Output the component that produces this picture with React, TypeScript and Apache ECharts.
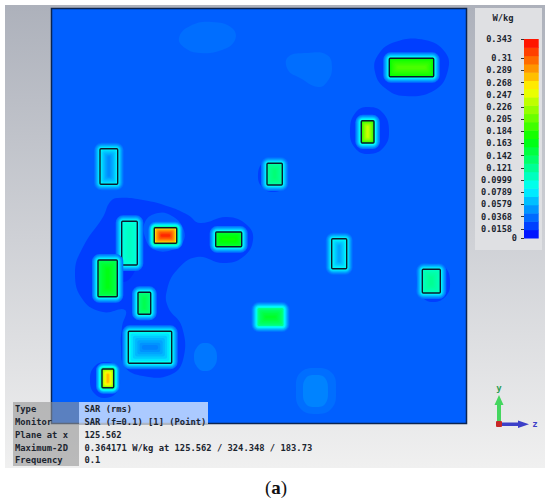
import React, { useEffect, useRef } from "react";
import * as echarts from "echarts";

// Colour scale ticks (W/kg)
const legendTicks = [0, 0.0158, 0.0368, 0.0579, 0.0789, 0.0999, 0.121, 0.142, 0.163, 0.184, 0.205, 0.226, 0.247, 0.268, 0.289, 0.31, 0.343];
const legendLabels = ["0", "0.0158", "0.0368", "0.0579", "0.0789", "0.0999", "0.121", "0.142", "0.163", "0.184", "0.205", "0.226", "0.247", "0.268", "0.289", "0.31", "0.343"];
const legendBandEdges = [0, 0.0143, 0.0286, 0.0429, 0.0572, 0.0715, 0.0858, 0.1, 0.1143, 0.1286, 0.1429, 0.1572, 0.1715, 0.1858, 0.2, 0.2143, 0.2286, 0.2429, 0.2572, 0.2715, 0.2858, 0.3, 0.3143, 0.3286, 0.343];
const scaleMax = 0.343;

const backgroundSAR = 0.032;

// Hot spots on the plane: corners, SAR just outside the edge, at the edge, at the centre, framed by a component outline (1/0)
const spotLeft = [100, 121.7, 154.3, 98, 138, 128.3, 102, 215.7, 267, 257.5, 389.3, 361.3, 331.7, 422.3];
const spotTop = [148.7, 221.3, 227.7, 260, 292.3, 331.3, 369, 232, 163.3, 308, 58.3, 120.7, 238.7, 269.3];
const spotRight = [117.7, 137.3, 176.7, 117.3, 150.7, 171.7, 113.7, 241.7, 282.3, 283.5, 433.7, 374, 346.7, 440.3];
const spotBottom = [184.3, 265, 243.3, 296.7, 314.3, 363.3, 387.7, 246.7, 185, 326, 76.7, 143, 268.7, 293];
const spotGlow = [0.085, 0.09, 0.13, 0.095, 0.095, 0.09, 0.12, 0.095, 0.09, 0.095, 0.095, 0.1, 0.088, 0.09];
const spotEdge = [0.085, 0.095, 0.26, 0.14, 0.125, 0.09, 0.21, 0.15, 0.115, 0.125, 0.17, 0.18, 0.09, 0.105];
const spotPeak = [0.047, 0.106, 0.33, 0.165, 0.145, 0.044, 0.28, 0.175, 0.132, 0.158, 0.196, 0.238, 0.056, 0.122];
const spotFramed = [1, 1, 1, 1, 1, 1, 1, 1, 1, 0, 1, 1, 1, 1];

// Iso-SAR contours on the plane, each with its SAR level, in drawing order
const contourLevels = [0.021, 0.032, 0.016, 0.021, 0.021, 0.021, 0.021, 0.021, 0.037, 0.037, 0.04, 0.037, 0.044];
const contourPoints: number[][][] = [
  [[118, 198], [143, 200], [170, 207], [188, 215], [200, 223], [227, 217], [247, 225], [253, 240], [243, 257], [223, 263], [197, 257], [177, 270], [167, 290], [168, 307], [182, 327], [183, 360], [170, 375], [143, 376], [125, 367], [121, 347], [122, 327], [125, 310], [103, 312], [83, 300], [75, 273], [83, 247], [103, 217], [110, 202]],
  [[145, 222], [158, 213], [172, 216], [183, 228], [183, 242], [172, 250], [155, 250], [146, 240]],
  [[117, 268], [126, 262], [135, 266], [132, 276], [124, 282], [118, 278]],
  [[378, 55], [395, 42], [425, 40], [445, 52], [448, 70], [435, 90], [405, 96], [385, 88], [375, 72]],
  [[350, 130], [356, 112], [369, 107], [383, 113], [389, 130], [384, 147], [369, 154], [355, 148]],
  [[258, 175], [263, 162], [273, 158], [284, 161], [288, 175], [284, 187], [273, 192], [262, 187]],
  [[416, 282], [421, 268], [433, 263], [445, 267], [450, 282], [446, 296], [433, 302], [421, 296]],
  [[90, 380], [94, 367], [105, 362], [116, 366], [120, 380], [117, 392], [105, 398], [94, 393]],
  [[288, 57], [307, 53], [327, 55], [332, 68], [327, 82], [318, 87], [300, 78], [288, 70]],
  [[179, 38], [190, 26], [212, 22], [232, 28], [235, 40], [222, 50], [200, 53], [185, 48]],
  [[194, 357], [198, 346], [205, 343], [213, 346], [217, 357], [213, 368], [205, 371], [198, 368]],
  [[296, 390], [300, 373], [316, 368], [332, 373], [336, 390], [332, 408], [316, 414], [300, 408]],
  [[303, 391], [306, 378], [316, 375], [325, 378], [328, 391], [325, 404], [316, 407], [306, 404]],
];

const infoKeys = ["Type", "Monitor", "Plane at x", "Maximum-2D", "Frequency"];
const infoValues = ["SAR (rms)", "SAR (f=0.1) [1] (Point)", "125.562", "0.364171 W/kg at 125.562 / 324.348 / 183.73", "0.1"];

function colorOf(v: number): string {
  const t = Math.max(0, Math.min(1, v / scaleMax)) * 4;
  const f = t - Math.floor(t);
  let r = 0, g = 0, b = 0;
  if (t < 1) { g = f; b = 1; }
  else if (t < 2) { g = 1; b = 1 - f; }
  else if (t < 3) { r = f; g = 1; }
  else if (t < 4) { r = 1; g = 1 - f; }
  else { r = 1; }
  return `rgb(${Math.round(r * 255)},${Math.round(g * 255)},${Math.round(b * 255)})`;
}

const MONO = '"DejaVu Sans Mono", monospace';
const INK = "#1c2530";
const labelRich = { fontFamily: MONO, fontSize: 8.6, fontWeight: "bold", color: INK };

function buildOption() {
  const graphic: any[] = [
    {
      type: "rect", z: -10, silent: true,
      shape: { x: 5, y: 5, width: 540, height: 463 },
      style: {
        fill: new echarts.graphic.LinearGradient(0, 0, 0, 1, [
          { offset: 0, color: "#adb1bb" },
          { offset: 1, color: "#f0f0f0" },
        ]),
      },
    },
    { type: "rect", z: -9, silent: true, shape: { x: 475, y: 8, width: 67, height: 242 }, style: { fill: "#dfe0e3" } },
    { type: "text", z: 5, silent: true, style: { text: "W/kg", x: 503, y: 18, align: "center", verticalAlign: "middle", font: `bold 8.8px ${MONO}`, fill: INK } },
    { type: "rect", z: 50, silent: true, shape: { x: 13, y: 402, width: 66, height: 64 }, style: { fill: "rgba(150,150,150,0.6)" } },
    { type: "rect", z: 50, silent: true, shape: { x: 79, y: 402, width: 129, height: 22 }, style: { fill: "rgba(255,255,255,0.67)" } },
    // Axis triad
    { type: "polygon", z: 6, silent: true, shape: { points: [[497, 424], [497, 405], [494.5, 405], [499, 395], [503.5, 405], [501, 405], [501, 424]] }, style: { fill: "#45d65f" } },
    { type: "polygon", z: 6, silent: true, shape: { points: [[499, 422.5], [518, 422.5], [518, 420.5], [529, 424.3], [518, 428], [518, 426], [499, 426]] }, style: { fill: "#3c3fc8" } },
    { type: "rect", z: 7, silent: true, shape: { x: 496, y: 421, width: 6, height: 6, r: 1 }, style: { fill: "#c62828" } },
    { type: "text", z: 7, silent: true, style: { text: "y", x: 499, y: 388, align: "center", verticalAlign: "middle", font: `bold 9px ${MONO}`, fill: "#2f9e55" } },
    { type: "text", z: 7, silent: true, style: { text: "z", x: 535, y: 424, align: "center", verticalAlign: "middle", font: `bold 9px ${MONO}`, fill: "#3c3fc8" } },
    {
      type: "text", z: 7, silent: true,
      style: {
        text: "({b|a})", x: 276, y: 487, align: "center", verticalAlign: "middle",
        fontFamily: '"Liberation Serif", serif', fontSize: 19, fill: "#111",
        rich: { b: { fontFamily: '"Liberation Serif", serif', fontSize: 19, fontWeight: "bold", fill: "#111" } },
      },
    },
  ];
  const rowY = [409.3, 422.3, 435, 447.7, 460.3];
  infoKeys.forEach((k, i) => {
    graphic.push({ type: "text", z: 60, silent: true, style: { text: k, x: 15, y: rowY[i], verticalAlign: "middle", font: `bold 8.8px ${MONO}`, fill: INK } });
    graphic.push({ type: "text", z: 60, silent: true, style: { text: infoValues[i], x: 84.5, y: rowY[i], verticalAlign: "middle", font: `bold 8.8px ${MONO}`, fill: INK } });
  });

  const bands = legendBandEdges.slice(0, -1).map((lo, i) => [0, lo, 1, legendBandEdges[i + 1]]);
  const spots = spotLeft.map((x0, i) => [x0, spotTop[i], spotRight[i], spotBottom[i], spotEdge[i], spotPeak[i], spotFramed[i], spotGlow[i]]);

  return {
    animation: false,
    graphic,
    grid: [
      { left: 51.5, top: 8.5, width: 415, height: 415, show: true, borderColor: "#0b2450", borderWidth: 1.5, backgroundColor: colorOf(backgroundSAR), z: 1 },
      { left: 524, top: 39, width: 14.7, height: 199, show: false },
    ],
    xAxis: [
      { type: "value", gridIndex: 0, min: 51.5, max: 466.5, show: false },
      { type: "value", gridIndex: 1, min: 0, max: 1, show: false },
    ],
    yAxis: [
      { type: "value", gridIndex: 0, min: 8.5, max: 423.5, inverse: true, show: false },
      {
        type: "value", gridIndex: 1, min: 0, max: scaleMax, position: "left",
        axisLine: { show: true, lineStyle: { color: "rgba(0,0,0,0)" } },
        splitLine: { show: false },
        axisTick: { show: true, length: 3, customValues: legendTicks, lineStyle: { color: "#333", width: 1 } },
        axisLabel: {
          show: true, margin: 7,
          customValues: legendTicks,
          showMinLabel: true,
          showMaxLabel: true,
          hideOverlap: false,
          formatter: (v: number) => {
            const i = legendTicks.indexOf(v);
            const s = i >= 0 ? legendLabels[i] : String(v);
            return v === 0 ? `{z|${s}}` : `{n|${s}}`;
          },
          rich: {
            z: { ...labelRich, padding: [0, 0, 0, 0] },
            n: { ...labelRich, padding: [0, 5, 0, 0] },
          },
        },
      },
    ],
    series: [
      {
        type: "custom", name: "contours", xAxisIndex: 0, yAxisIndex: 0, z: 2, silent: true,
        data: contourLevels.map((v, i) => [contourPoints[i][0][0], contourPoints[i][0][1], v]),
        encode: { x: 0, y: 1 },
        renderItem: (params: any, api: any) => ({
          type: "polygon",
          shape: { points: contourPoints[params.dataIndex].map((p) => api.coord(p)), smooth: 0.45 },
          style: { fill: colorOf(contourLevels[params.dataIndex]) },
        }),
      },
      {
        type: "custom", name: "hot spots", xAxisIndex: 0, yAxisIndex: 0, z: 3, silent: true,
        data: spots,
        encode: { x: [0, 2], y: [1, 3] },
        renderItem: (_p: any, api: any) => {
          const a = api.coord([api.value(0), api.value(1)]);
          const b = api.coord([api.value(2), api.value(3)]);
          const edge = api.value(4), peak = api.value(5), framed = api.value(6), glow = api.value(7);
          const w = b[0] - a[0], h = b[1] - a[1];
          const children: any[] = [];
          const outer = 7;
          for (let o = outer - 1; o >= 1; o--) {
            const t = Math.pow(1 - (o - 1) / (outer - 1), 1.25);
            children.push({
              type: "rect",
              shape: { x: a[0] - o, y: a[1] - o, width: w + 2 * o, height: h + 2 * o, r: o + 1.5 },
              style: { fill: colorOf(backgroundSAR + (glow - backgroundSAR) * t) },
            });
          }
          children.push({
            type: "rect",
            shape: { x: a[0], y: a[1], width: w, height: h, r: 1.5 },
            style: { fill: colorOf(edge) },
          });
          const depth = (Math.min(w, h) / 2) * 0.85;
          const steps = 6;
          for (let i = 1; i <= steps; i++) {
            const inset = (depth * i) / steps;
            const t = Math.pow(i / steps, 0.7);
            children.push({
              type: "rect",
              shape: { x: a[0] + inset, y: a[1] + inset, width: w - 2 * inset, height: h - 2 * inset, r: 2 },
              style: { fill: colorOf(edge + (peak - edge) * t) },
            });
          }
          if (framed) {
            children.push({
              type: "rect",
              shape: { x: a[0], y: a[1], width: w, height: h, r: 1 },
              style: { fill: "none", stroke: "#0c1a2e", lineWidth: 1.4 },
            });
          }
          return { type: "group", children };
        },
      },
      {
        type: "custom", name: "colour bar", xAxisIndex: 1, yAxisIndex: 1, z: 3, silent: true,
        data: bands,
        encode: { x: [0, 2], y: [1, 3] },
        renderItem: (_p: any, api: any) => {
          const a = api.coord([api.value(0), api.value(3)]);
          const b = api.coord([api.value(2), api.value(1)]);
          return {
            type: "rect",
            shape: { x: a[0], y: a[1], width: b[0] - a[0], height: b[1] - a[1] + 0.5 },
            style: { fill: colorOf((api.value(1) + api.value(3)) / 2) },
          };
        },
      },
    ],
  };
}

export default function App() {
  const ref = useRef<HTMLDivElement>(null);
  useEffect(() => {
    document.body.style.margin = "0";
    document.body.style.background = "#fff";
    const chart = echarts.init(ref.current!, undefined, { renderer: "svg" });
    chart.setOption(buildOption() as any);
    return () => chart.dispose();
  }, []);
  return <div ref={ref} style={{ width: 550, height: 499 }} />;
}
